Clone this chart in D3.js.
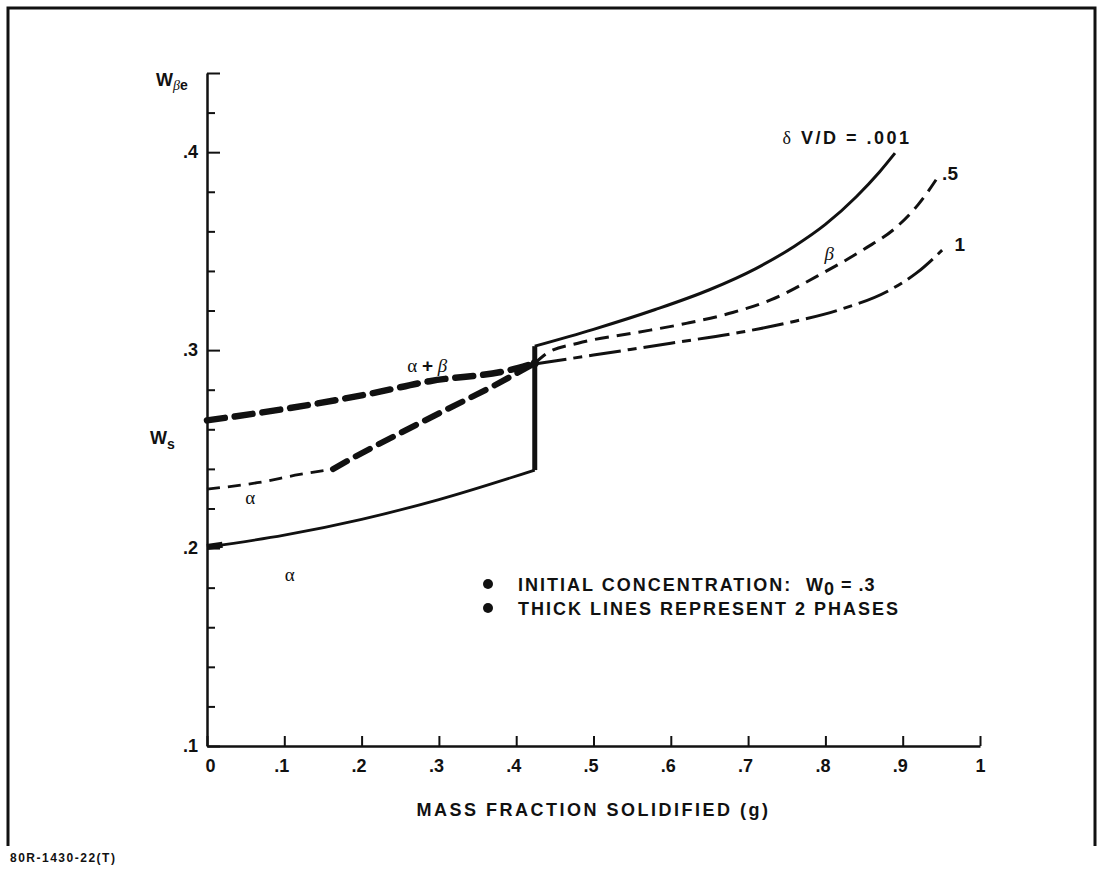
<!DOCTYPE html>
<html>
<head>
<meta charset="utf-8">
<script src="https://cdn.jsdelivr.net/npm/d3@7"></script>
<style>
  body { margin: 0; background: #ffffff; }
  svg { display: block; }
</style>
</head>
<body>
<div id="chart"></div>
<script>
// Mass fraction solidified vs. solid composition, redrawn with D3

// Tick values
const xTicks = [0, 0.1, 0.2, 0.3, 0.4, 0.5, 0.6, 0.7, 0.8, 0.9, 1];
const yMajorTicks = [0.1, 0.2, 0.3, 0.4, 0.44];
const yMinorTicks = [0.12, 0.14, 0.16, 0.18, 0.22, 0.24, 0.26, 0.28, 0.32, 0.34, 0.36, 0.38, 0.42];

// delta V/D = .001 (solid line)
const solidAlpha = [[0, 0.2005], [0.1, 0.2065], [0.2, 0.2145], [0.3, 0.2245], [0.424, 0.2394]];
const solidStart = [[0, 0.2005], [0.02, 0.2017]];
const solidJump = [[0.424, 0.2394], [0.424, 0.302]];
const solidBeta = [[0.424, 0.302], [0.5, 0.3105], [0.58, 0.3205], [0.65, 0.3305], [0.71, 0.3412],
  [0.76, 0.3525], [0.8, 0.3635], [0.84, 0.3775], [0.87, 0.39], [0.89, 0.3995]];

// delta V/D = .5 (dashed line)
const dashedAlpha = [[0, 0.2298], [0.065, 0.233], [0.12, 0.2372], [0.163, 0.2399]];
const dashedTwoPhase = [[0.163, 0.2399], [0.19, 0.2458], [0.25, 0.2581], [0.31, 0.27],
  [0.37, 0.2818], [0.424, 0.2934]];
const dashedBeta = [[0.424, 0.2934], [0.44, 0.2985], [0.48, 0.3035], [0.55, 0.3085], [0.62, 0.3135],
  [0.68, 0.319], [0.73, 0.3255], [0.79, 0.3375], [0.85, 0.351], [0.89, 0.3615],
  [0.92, 0.3735], [0.948, 0.3889]];

// delta V/D = 1 (long dash line)
const longTwoPhase = [[0, 0.2645], [0.107, 0.2707], [0.215, 0.2783], [0.288, 0.2843], [0.388, 0.2896], [0.424, 0.2934]];
const longBeta = [[0.424, 0.293], [0.5, 0.2975], [0.6, 0.3035], [0.69, 0.309], [0.754, 0.314],
  [0.819, 0.3205], [0.884, 0.3305], [0.918, 0.339], [0.951, 0.3505]];

// Legend lines
const notes = ['INITIAL CONCENTRATION:', 'THICK LINES REPRESENT 2 PHASES'];

(function() {
  const width = 1103;
  const height = 879;
  const ink = '#111111';

  const svg = d3.select('#chart')
    .append('svg')
    .attr('width', width)
    .attr('height', height)
    .style('font-family', '"Liberation Sans", Arial, sans-serif');

  // Outer frame
  svg.append('path')
    .attr('d', 'M8,846 L8,8 L1095,8 L1095,846')
    .attr('fill', 'none')
    .attr('stroke', ink)
    .attr('stroke-width', 3);

  const x = d3.scaleLinear().domain([0, 1]).range([207, 980]);
  const y = d3.scaleLinear().domain([0.1, 0.44]).range([746, 73]);

  const fmt = d => (d === 0 ? '0' : d === 1 ? '1' : d3.format('.1f')(d).replace(/^0/, ''));

  // X axis, ticks pointing up
  const xAxisGroup = svg.append('g')
    .attr('transform', `translate(0, ${y(0.1)})`)
    .call(d3.axisBottom(x)
      .tickValues(xTicks)
      .tickFormat(fmt)
      .tickSizeInner(-10)
      .tickSizeOuter(0)
      .tickPadding(13));

  xAxisGroup.select('.domain').attr('stroke', ink).attr('stroke-width', 2.5);
  xAxisGroup.selectAll('.tick line').attr('stroke', ink).attr('stroke-width', 2);
  xAxisGroup.selectAll('.tick text')
    .attr('dx', d => (d === 0 ? 3 : d === 1 ? 0 : -3))
    .style('font-size', '18px')
    .style('font-weight', 'bold')
    .style('fill', ink);

  // Y axis, major ticks
  const yAxisGroup = svg.append('g')
    .attr('transform', `translate(${x(0)}, 0)`)
    .call(d3.axisLeft(y)
      .tickValues(yMajorTicks)
      .tickFormat(d => (d > 0.41 ? '' : fmt(d)))
      .tickSizeInner(-13)
      .tickSizeOuter(0)
      .tickPadding(9));

  yAxisGroup.select('.domain').attr('stroke', ink).attr('stroke-width', 2.5);
  yAxisGroup.selectAll('.tick line').attr('stroke', ink).attr('stroke-width', 2);
  yAxisGroup.selectAll('.tick text')
    .style('font-size', '18px')
    .style('font-weight', 'bold')
    .style('fill', ink);

  // Y axis, minor ticks
  const yMinor = svg.append('g')
    .attr('transform', `translate(${x(0)}, 0)`)
    .call(d3.axisLeft(y)
      .tickValues(yMinorTicks)
      .tickFormat('')
      .tickSizeInner(-8)
      .tickSizeOuter(0));
  yMinor.select('.domain').remove();
  yMinor.selectAll('.tick line').attr('stroke', ink).attr('stroke-width', 2);

  // Curves
  const line = d3.line()
    .x(d => x(d[0]))
    .y(d => y(d[1]))
    .curve(d3.curveMonotoneX);

  const straight = d3.line()
    .x(d => x(d[0]))
    .y(d => y(d[1]));

  const series = [
    { data: solidAlpha, w: 2.8, dash: null, gen: line },
    { data: solidStart, w: 6, dash: null, gen: straight },
    { data: solidJump, w: 5, dash: null, gen: straight },
    { data: solidBeta, w: 3, dash: null, gen: line },
    { data: dashedAlpha, w: 2.8, dash: '13,8', gen: line },
    { data: dashedTwoPhase, w: 6, dash: '16,10', gen: line, cap: 'round' },
    { data: dashedBeta, w: 3, dash: '14,8', gen: line },
    { data: longTwoPhase, w: 6.5, dash: '18,10', gen: line, cap: 'round' },
    { data: longBeta, w: 3, dash: '32,7,9,7', gen: line }
  ];

  svg.selectAll('.curve')
    .data(series)
    .enter()
    .append('path')
    .attr('class', 'curve')
    .attr('d', d => d.gen(d.data))
    .attr('fill', 'none')
    .attr('stroke', ink)
    .attr('stroke-width', d => d.w)
    .attr('stroke-dasharray', d => d.dash)
    .attr('stroke-linecap', d => d.cap || 'butt')
    .attr('stroke-linejoin', 'round');

  // Meeting point of the two-phase lines
  svg.append('circle')
    .attr('cx', x(0.424))
    .attr('cy', y(0.2934))
    .attr('r', 4)
    .attr('fill', ink);

  // Phase labels
  const greek = svg.append('g')
    .style('font-family', '"Liberation Serif", "DejaVu Serif", serif')
    .style('font-size', '19px')
    .style('fill', ink)
    .attr('text-anchor', 'middle');

  greek.append('text').attr('x', x(0.056)).attr('y', y(0.2247) + 5).text('α');
  greek.append('text').attr('x', x(0.107)).attr('y', y(0.186) + 5).text('α');
  greek.append('text').attr('x', x(0.805)).attr('y', y(0.3485) + 6).style('font-style', 'italic').text('β');

  const ab = greek.append('text').attr('x', x(0.285)).attr('y', y(0.2919) + 6);
  ab.append('tspan').text('α ');
  ab.append('tspan').style('font-family', '"Liberation Sans", Arial, sans-serif').style('font-weight', 'bold').text('+');
  ab.append('tspan').style('font-style', 'italic').text(' β');

  // Curve labels
  const bold = svg.append('g')
    .style('font-size', '18px')
    .style('font-weight', 'bold')
    .style('fill', ink);

  const dv = bold.append('text')
    .attr('x', x(0.828))
    .attr('y', y(0.407) + 6)
    .attr('text-anchor', 'middle')
    .style('letter-spacing', '2.5px');
  dv.append('tspan').style('font-family', '"Liberation Serif", serif').style('font-weight', 'normal').text('δ');
  dv.append('tspan').text(' V/D = .001');

  bold.append('text').attr('x', x(0.951)).attr('y', y(0.3894) + 7).style('font-size', '19px').text('.5');
  bold.append('text').attr('x', x(0.967)).attr('y', y(0.3535) + 7).style('font-size', '19px').text('1');

  // Axis names
  const wb = bold.append('text').attr('x', 156).attr('y', 86);
  wb.append('tspan').text('W');
  wb.append('tspan').attr('dy', 4).style('font-size', '14px')
    .style('font-family', '"Liberation Serif", serif').style('font-style', 'italic').style('font-weight', 'normal').text('β');
  wb.append('tspan').style('font-size', '14px').text('e');

  const ws = bold.append('text').attr('x', 150).attr('y', 444);
  ws.append('tspan').text('W');
  ws.append('tspan').attr('dy', 5).style('font-size', '14px').text('s');

  bold.append('text')
    .attr('x', (x(0) + x(1)) / 2)
    .attr('y', 816)
    .attr('text-anchor', 'middle')
    .style('letter-spacing', '2.5px')
    .text('MASS FRACTION SOLIDIFIED (g)');

  // Notes with bullets
  const noteGroup = bold.append('g').style('font-size', '18px').style('letter-spacing', '2px');

  noteGroup.selectAll('circle')
    .data(notes)
    .enter()
    .append('circle')
    .attr('cx', 488)
    .attr('cy', (d, i) => 584 + i * 24)
    .attr('r', 5)
    .attr('fill', ink);

  noteGroup.selectAll('.note')
    .data(notes)
    .enter()
    .append('text')
    .attr('class', 'note')
    .attr('x', 518)
    .attr('y', (d, i) => 591 + i * 24)
    .text(d => d);

  const w0 = noteGroup.append('text').attr('x', 806).attr('y', 591).style('letter-spacing', '1px');
  w0.append('tspan').text('W');
  w0.append('tspan').attr('dy', 4).text('0');
  w0.append('tspan').attr('dy', -4).text(' = .3');

  // Figure code
  svg.append('text')
    .attr('x', 10)
    .attr('y', 862)
    .style('font-size', '12px')
    .style('font-weight', 'bold')
    .style('letter-spacing', '1.5px')
    .style('fill', ink)
    .text('80R-1430-22(T)');
})();
</script>
</body>
</html>
